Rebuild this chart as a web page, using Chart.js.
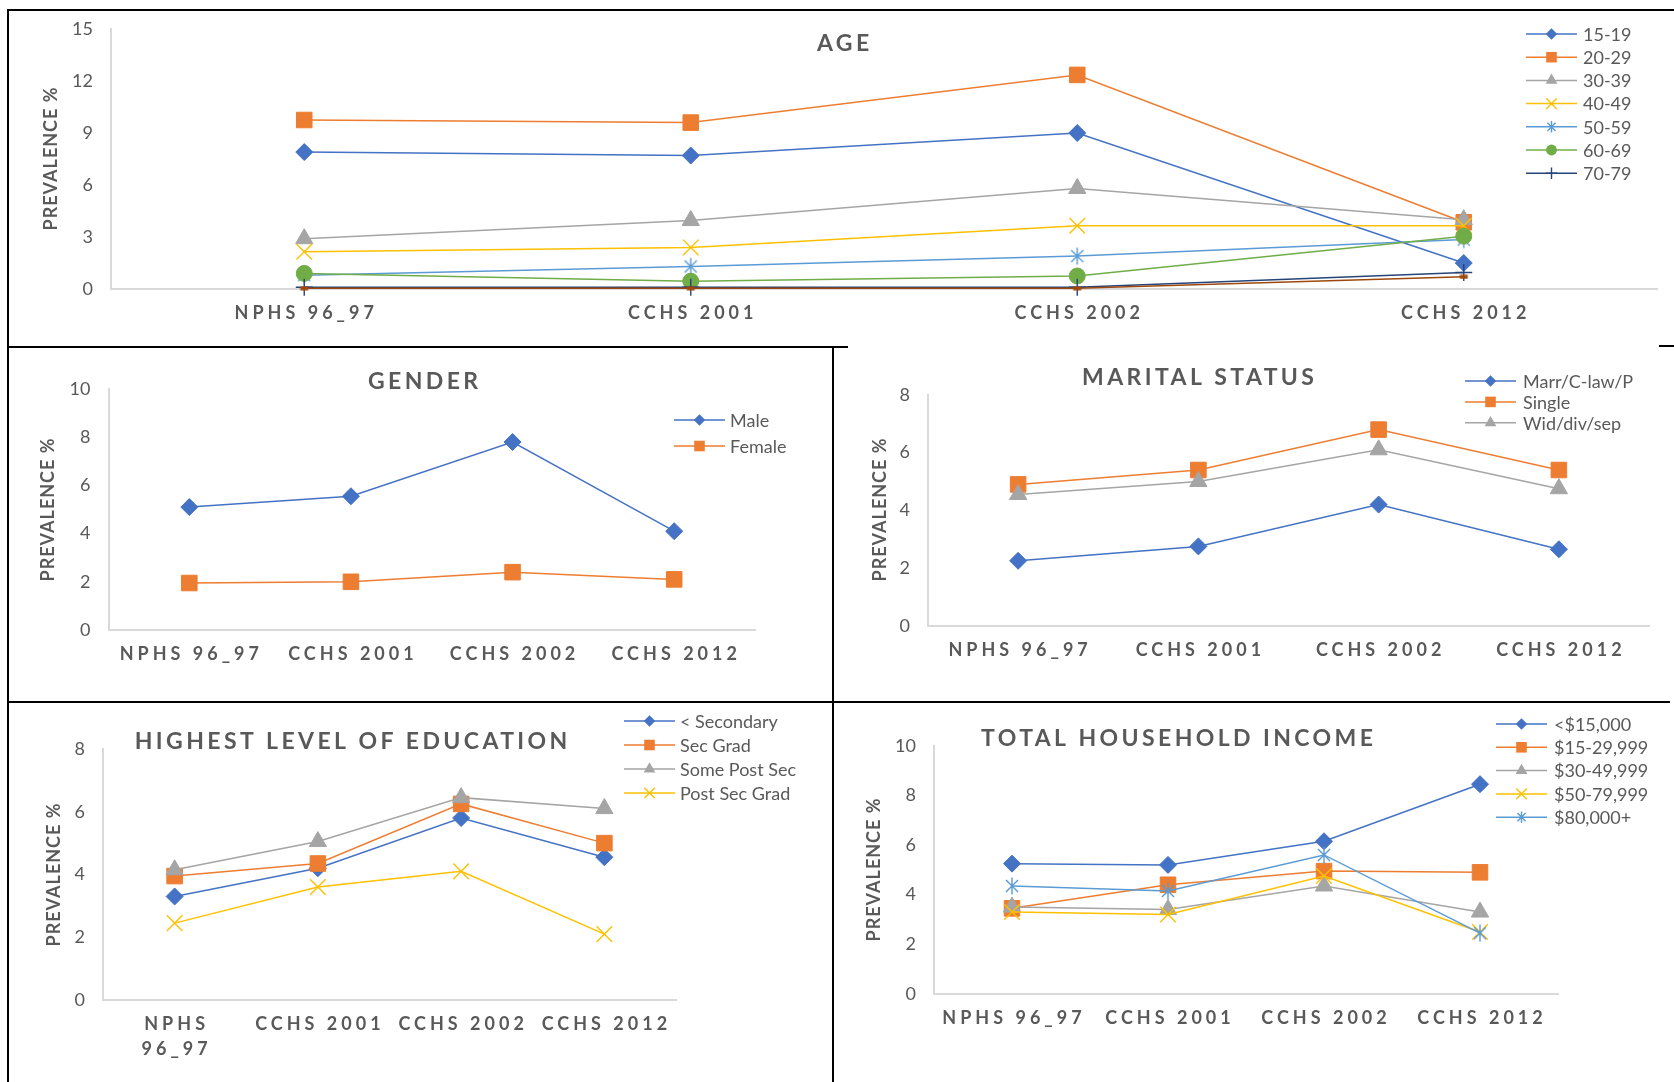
<!DOCTYPE html>
<html lang="en">
<head>
<meta charset="utf-8">
<title>Prevalence by survey cycle</title>
<script src="https://cdn.jsdelivr.net/npm/chart.js@4.4.1/dist/chart.umd.min.js"></script>
<style>
  html, body { margin: 0; padding: 0; background: #fff; }
  body { position: relative; width: 1674px; height: 1082px; overflow: hidden; }
  canvas { position: absolute; }
  .rule { position: absolute; background: #000; }
</style>
</head>
<body>
<canvas id="age"></canvas>
<canvas id="gender"></canvas>
<canvas id="marital"></canvas>
<canvas id="education"></canvas>
<canvas id="income"></canvas>

<!-- panel frame lines -->
<div class="rule" style="left:7px;top:9px;width:1667px;height:2px"></div>
<div class="rule" style="left:7px;top:9px;width:2px;height:1073px"></div>
<div class="rule" style="left:7px;top:346px;width:841px;height:2px"></div>
<div class="rule" style="left:1659px;top:345px;width:15px;height:2px"></div>
<div class="rule" style="left:832px;top:346px;width:2px;height:736px"></div>
<div class="rule" style="left:7px;top:701px;width:1663px;height:2px"></div>

<script>
// ---------- categories ----------
const surveys = ['NPHS 96_97', 'CCHS 2001', 'CCHS 2002', 'CCHS 2012'];
const surveysWrapped = [['NPHS', '96_97'], 'CCHS 2001', 'CCHS 2002', 'CCHS 2012'];

// ---------- age (prevalence %) ----------
const ageGroups = ['15-19', '20-29', '30-39', '40-49', '50-59', '60-69', '70-79', '80+'];
const age15to19 = [7.9, 7.7, 9.0, 1.5];
const age20to29 = [9.75, 9.6, 12.35, 3.85];
const age30to39 = [2.9, 3.95, 5.8, 4.0];
const age40to49 = [2.15, 2.4, 3.65, 3.65];
const age50to59 = [0.8, 1.3, 1.9, 2.85];
const age60to69 = [0.9, 0.45, 0.75, 3.05];
const age70to79 = [0.1, 0.1, 0.1, 0.95];
const age80plus = [0.04, 0.04, 0.04, 0.7];

// ---------- gender ----------
const genderGroups = ['Male', 'Female'];
const male = [5.1, 5.55, 7.8, 4.1];
const female = [1.95, 2.0, 2.4, 2.1];

// ---------- marital status ----------
const maritalGroups = ['Marr/C-law/P', 'Single', 'Wid/div/sep'];
const married = [2.25, 2.75, 4.2, 2.65];
const single = [4.9, 5.4, 6.8, 5.4];
const widowed = [4.55, 5.0, 6.1, 4.75];

// ---------- education ----------
const educationGroups = ['< Secondary', 'Sec Grad', 'Some Post Sec', 'Post Sec Grad'];
const lessSecondary = [3.3, 4.2, 5.8, 4.55];
const secondaryGrad = [3.95, 4.35, 6.25, 5.0];
const somePostSec = [4.15, 5.05, 6.45, 6.1];
const postSecGrad = [2.45, 3.6, 4.1, 2.1];

// ---------- household income ----------
const incomeGroups = ['<$15,000', '$15-29,999', '$30-49,999', '$50-79,999', '$80,000+'];
const incomeUnder15k = [5.25, 5.2, 6.15, 8.45];
const income15to30k = [3.45, 4.4, 4.95, 4.9];
const income30to50k = [3.5, 3.4, 4.35, 3.3];
const income50to80k = [3.3, 3.2, 4.75, 2.5];
const income80kPlus = [4.35, 4.15, 5.6, 2.45];

// ---------- styling ----------
const FONT = 'Lato, "Open Sans", sans-serif';
const TEXT = '#595959';
const AXIS = '#D9D9D9';
const SERIES_COLORS = ['#4472C4', '#ED7D31', '#A5A5A5', '#FFC000', '#5B9BD5', '#70AD47', '#264478', '#9E480E'];
const MARKERS = [
  { kind: 'rectRot', r: 8.5 },
  { kind: 'rect', r: 11 },
  { kind: 'triangle', r: 10 },
  { kind: 'crossRot', r: 11 },
  { kind: 'asterisk', r: 8.5 },
  { kind: 'circle', r: 8 },
  { kind: 'cross', r: 8.5 },
  { kind: 'dash', r: 4 },
];
const STROKED = new Set(['crossRot', 'cross', 'asterisk']);

// Page-space layout of each panel: canvas box, plot rectangle and text anchors.
const PANELS = {
  age:       { box: [10, 0, 1664, 345], plot: [111, 29, 1657, 289],   title: [843, 44],   yTitle: [51, 159],  xLabelY: 313,
               legend: { lineX: 1526, textX: 1583, y: 34, step: 23.2 } },
  gender:    { box: [10, 349, 821, 351], plot: [108.5, 389, 755, 630], title: [423, 382],  yTitle: [48, 510],  xLabelY: 654,
               legend: { lineX: 674, textX: 730, y: 420, step: 26 } },
  marital:   { box: [835, 349, 839, 351], plot: [928, 395, 1649, 625.7], title: [1198, 378], yTitle: [880, 510], xLabelY: 650,
               legend: { lineX: 1465, textX: 1523, y: 381, step: 20.9 } },
  education: { box: [10, 704, 821, 378], plot: [103, 749, 676, 1000], title: [351, 742],  yTitle: [54, 875],  xLabelY: 1024,
               legend: { lineX: 624, textX: 680, y: 721, step: 24 } },
  income:    { box: [835, 704, 839, 378], plot: [934, 745.7, 1558, 994], title: [1177, 739], yTitle: [874, 870], xLabelY: 1018,
               legend: { lineX: 1496, textX: 1554, y: 724, step: 23.3 } },
};

function drawMarker(ctx, kind, r, x, y, color) {
  const d = r * Math.SQRT1_2;
  ctx.save();
  ctx.fillStyle = color;
  ctx.strokeStyle = color;
  ctx.lineWidth = 1.4;
  ctx.beginPath();
  switch (kind) {
    case 'rectRot':
      ctx.moveTo(x - r, y); ctx.lineTo(x, y - r); ctx.lineTo(x + r, y); ctx.lineTo(x, y + r);
      ctx.closePath(); ctx.fill(); break;
    case 'rect':
      ctx.rect(x - d, y - d, 2 * d, 2 * d); ctx.fill(); break;
    case 'triangle':
      ctx.moveTo(x, y - r); ctx.lineTo(x + r * 0.866, y + r / 2); ctx.lineTo(x - r * 0.866, y + r / 2);
      ctx.closePath(); ctx.fill(); break;
    case 'circle':
      ctx.arc(x, y, r, 0, Math.PI * 2); ctx.fill(); break;
    case 'crossRot':
      ctx.moveTo(x - d, y - d); ctx.lineTo(x + d, y + d); ctx.moveTo(x - d, y + d); ctx.lineTo(x + d, y - d);
      ctx.stroke(); break;
    case 'cross':
      ctx.moveTo(x, y - r); ctx.lineTo(x, y + r); ctx.moveTo(x - r, y); ctx.lineTo(x + r, y);
      ctx.stroke(); break;
    case 'asterisk':
      ctx.moveTo(x, y - r); ctx.lineTo(x, y + r);
      ctx.moveTo(x - d, y - d); ctx.lineTo(x + d, y + d); ctx.moveTo(x - d, y + d); ctx.lineTo(x + d, y - d);
      ctx.stroke(); break;
    case 'dash':
      ctx.fillRect(x - r, y - r / 2, 2 * r, r); break;
  }
  ctx.restore();
}

// Marker shapes Chart.js has no built-in for are rendered to small canvases.
function markerStyle(kind, r, color) {
  if (kind !== 'asterisk' && kind !== 'dash') return kind;
  const c = document.createElement('canvas');
  const s = Math.ceil(2 * r + 3);
  c.width = s;
  c.height = kind === 'dash' ? Math.ceil(r + 1) : s;
  drawMarker(c.getContext('2d'), kind, r, c.width / 2, c.height / 2, color);
  return c;
}

function spacedText(ctx, text, x, y, font, spacing, align) {
  ctx.font = font;
  ctx.letterSpacing = '0px';
  const plain = ctx.measureText(text).width;
  const w = plain + spacing * ([...text].length - 1);
  ctx.letterSpacing = spacing + 'px';
  ctx.textAlign = 'left';
  ctx.fillText(text, align === 'center' ? x - w / 2 : x, y);
  ctx.letterSpacing = '0px';
}

// Titles, axis names, category labels and the legend of each panel.
const panelText = {
  id: 'panelText',
  afterDraw(chart) {
    const o = chart.options.plugins.panelText;
    const p = PANELS[o.panel];
    const [bx, by] = p.box;
    const ctx = chart.ctx;
    ctx.save();
    ctx.fillStyle = TEXT;
    ctx.textBaseline = 'middle';

    spacedText(ctx, o.title, p.title[0] - bx, p.title[1] - by, `bold 23px ${FONT}`, 3.4, 'center');

    ctx.save();
    ctx.translate(p.yTitle[0] - bx, p.yTitle[1] - by);
    ctx.rotate(-Math.PI / 2);
    spacedText(ctx, 'PREVALENCE %', 0, 0, `bold 18px ${FONT}`, 1, 'center');
    ctx.restore();

    const xs = chart.scales.x;
    chart.data.labels.forEach((lab, i) => {
      const px = xs.getPixelForValue(i);
      const lines = Array.isArray(lab) ? lab : [lab];
      lines.forEach((ln, k) => spacedText(ctx, ln, px, p.xLabelY - by + k * 25, `bold 18px ${FONT}`, 4, 'center'));
    });

    const L = p.legend;
    let row = 0;
    chart.data.datasets.forEach((ds) => {
      if (ds.inLegend === false) return;
      const y = L.y - by + row * L.step;
      const x0 = L.lineX - bx;
      row++;
      ctx.strokeStyle = ds.borderColor;
      ctx.lineWidth = 1.5;
      ctx.beginPath();
      ctx.moveTo(x0, y);
      ctx.lineTo(x0 + 51, y);
      ctx.stroke();
      drawMarker(ctx, ds.markerKind, ds.markerR * 0.68, x0 + 25.5, y, ds.borderColor);
      ctx.fillStyle = TEXT;
      ctx.font = `18px ${FONT}`;
      ctx.textAlign = 'left';
      ctx.fillText(ds.label, L.textX - bx, y + 1);
    });
    ctx.restore();
  }
};

function buildChart(id, title, labels, groups, series, yMax, yStep, legendRows) {
  const p = PANELS[id];
  const [bx, by, bw, bh] = p.box;
  const [pl, pt, pr, pb] = p.plot;
  const cv = document.getElementById(id);
  cv.width = bw; cv.height = bh;
  cv.style.left = bx + 'px'; cv.style.top = by + 'px';

  const datasets = series.map((values, i) => {
    const m = MARKERS[i];
    const color = SERIES_COLORS[i];
    return {
      label: groups[i],
      data: values,
      borderColor: color,
      backgroundColor: color,
      borderWidth: 1.5,
      tension: 0,
      pointStyle: markerStyle(m.kind, m.r, color),
      pointRadius: m.r,
      pointHoverRadius: m.r,
      pointBorderWidth: STROKED.has(m.kind) ? 1.4 : 1,
      pointBackgroundColor: color,
      pointBorderColor: color,
      clip: false,
      order: series.length - i,
      inLegend: i < legendRows,
      markerKind: m.kind,
      markerR: m.r,
    };
  });

  return new Chart(cv, {
    type: 'line',
    data: { labels, datasets },
    options: {
      responsive: false,
      animation: false,
      devicePixelRatio: 1,
      events: [],
      layout: { padding: { left: 0, top: pt - by, right: bx + bw - pr, bottom: by + bh - pb } },
      scales: {
        x: {
          type: 'category', offset: true,
          grid: { display: false, drawTicks: false },
          ticks: { display: false },
          border: { display: true, color: AXIS, width: 2 },
          afterFit(s) { s.height = 0; }
        },
        y: {
          min: 0, max: yMax,
          ticks: { stepSize: yStep, color: TEXT, font: { family: FONT, size: 18 }, padding: 18 },
          grid: { display: false, drawTicks: false },
          border: { display: true, color: AXIS, width: 2 },
          afterFit(s) { s.width = pl - bx; }
        }
      },
      plugins: {
        legend: { display: false },
        tooltip: { enabled: false },
        title: { display: false },
        panelText: { panel: id, title }
      }
    },
    plugins: [panelText]
  });
}

Chart.defaults.font.family = FONT;

buildChart('age', 'AGE', surveys, ageGroups,
  [age15to19, age20to29, age30to39, age40to49, age50to59, age60to69, age70to79, age80plus], 15, 3, 7);
buildChart('gender', 'GENDER', surveys, genderGroups, [male, female], 10, 2, 2);
buildChart('marital', 'MARITAL STATUS', surveys, maritalGroups, [married, single, widowed], 8, 2, 3);
buildChart('education', 'HIGHEST LEVEL OF EDUCATION', surveysWrapped, educationGroups,
  [lessSecondary, secondaryGrad, somePostSec, postSecGrad], 8, 2, 4);
buildChart('income', 'TOTAL HOUSEHOLD INCOME', surveys, incomeGroups,
  [incomeUnder15k, income15to30k, income30to50k, income50to80k, income80kPlus], 10, 2, 5);
</script>
</body>
</html>
